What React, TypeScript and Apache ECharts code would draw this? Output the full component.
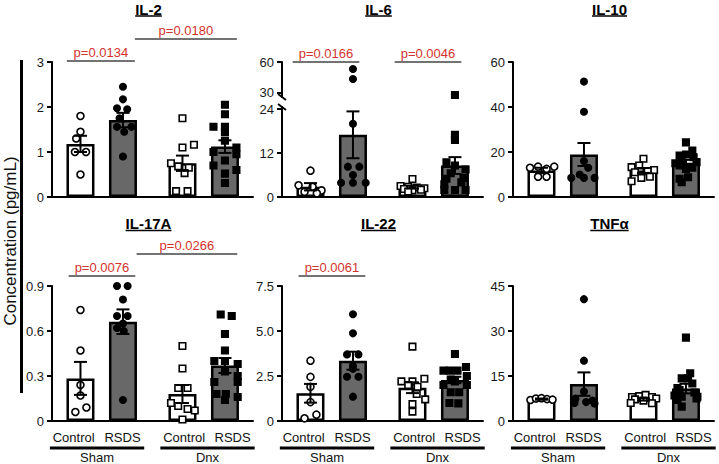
import React, { useEffect, useRef } from "react";
import * as echarts from "echarts";

const FONT = "'Liberation Sans', Arial, Helvetica, sans-serif";

// ---------- categories ----------
const GROUP_NAMES = ["Control", "RSDS", "Control", "RSDS"];
const GROUP_X = [0, 1, 2.4, 3.4];
const LABEL_X = [-0.16, 0.99, 2.44, 3.58];
const SURGERY_NAMES = ["Sham", "Dnx"];
const SURGERY_SPAN = [[-0.72, 1.5], [1.88, 4.1]];

// ---------- IL-2 ----------
const IL2_MEAN = [1.18, 1.71, 0.75, 1.12];
const IL2_SEM = [0.18, 0.16, 0.17, 0.14];
const IL2_SHAM_CTRL = [[0, 1.8], [0, 1.45], [-0.1, 1.3], [0.13, 1.0], [-0.13, 1.0], [0, 0.5]];
const IL2_SHAM_RSDS = [[0, 2.45], [0, 2.17], [-0.14, 1.97], [0.1, 1.95], [-0.08, 1.75], [-0.14, 1.56], [0.2, 1.56], [0.03, 1.45], [0, 0.9]];
const IL2_DNX_CTRL = [[0, 1.75], [0, 1.1], [0.27, 1.16], [-0.27, 0.75], [-0.1, 0.68], [0.15, 0.65], [0.05, 0.53], [-0.15, 0.13], [0.12, 0.13]];
const IL2_DNX_RSDS = [[0, 2.05], [0, 1.84], [-0.27, 1.56], [0, 1.56], [0, 1.44], [0, 1.25], [0.27, 1.1], [-0.27, 1.0], [0.27, 0.95], [0, 0.81], [-0.27, 0.7], [0.27, 0.6], [0, 0.52], [0, 0.31]];

// ---------- IL-6 ----------
const IL6_MEAN = [2.8, 17.0, 2.7, 8.6];
const IL6_SEM = [1.0, 6.4, 0.4, 2.3];
const IL6_SHAM_CTRL = [[0, 7.2], [-0.28, 3.2], [0.05, 2.8], [0.26, 1.8], [-0.14, 1.4], [0.15, 1.0]];
const IL6_SHAM_RSDS = [[0, 53.2], [0, 43.5], [0, 20], [-0.12, 8.3], [0.15, 8.3], [0, 6], [-0.28, 3.9], [0, 3.9], [0.3, 3.9]];
const IL6_DNX_CTRL = [[0, 4.9], [-0.28, 3.0], [-0.1, 2.8], [0.1, 2.6], [0.28, 2.4], [-0.2, 2.2], [0.2, 2.0], [0, 1.8], [-0.1, 1.5]];
const IL6_DNX_RSDS = [[0, 28], [0, 17], [0, 15.6], [-0.2, 9.5], [0, 8.6], [0.25, 7.5], [-0.1, 6.5], [0.2, 5.2], [-0.2, 5.0], [0.15, 4], [-0.25, 3.5], [-0.25, 1.9], [0, 1.9], [0.25, 1.9]];

// ---------- IL-10 ----------
const IL10_MEAN = [11.8, 18.9, 11.8, 15.2];
const IL10_SEM = [1.2, 5.1, 1.1, 1.3];
const IL10_SHAM_CTRL = [[-0.27, 13], [-0.08, 13.5], [0.12, 12.5], [0.3, 13.5], [-0.08, 9], [0.12, 9]];
const IL10_SHAM_RSDS = [[0, 51.3], [0, 37.9], [0, 16], [0.1, 13], [-0.1, 10], [-0.3, 8.5], [0, 8.5], [0.25, 8.5]];
const IL10_DNX_CTRL = [[0, 17], [-0.1, 14], [-0.28, 13.3], [0.25, 12], [0.1, 11.5], [-0.2, 11], [0.15, 9], [-0.05, 8.5], [-0.28, 7]];
const IL10_DNX_RSDS = [[0, 24.3], [0.15, 20.6], [0, 18.9], [-0.15, 18.4], [0.18, 17.7], [-0.1, 16.5], [0.25, 15.5], [-0.25, 15], [-0.15, 14], [0.15, 13], [0, 12.5], [0.05, 8.8], [-0.15, 8.1], [-0.1, 6.6]];

// ---------- IL-17A ----------
const IL17_MEAN = [0.284, 0.662, 0.18, 0.37];
const IL17_SEM = [0.11, 0.082, 0.06, 0.05];
const IL17_SHAM_CTRL = [[0, 0.74], [0, 0.47], [0, 0.24], [0, 0.17], [0.14, 0.09], [-0.12, 0.06]];
const IL17_SHAM_RSDS = [[-0.14, 0.9], [0.11, 0.9], [0, 0.81], [-0.14, 0.7], [0.11, 0.7], [0, 0.65], [-0.14, 0.62], [0.02, 0.6], [0, 0.14]];
const IL17_DNX_CTRL = [[0, 0.5], [0, 0.35], [-0.1, 0.22], [0.12, 0.22], [-0.27, 0.12], [-0.1, 0.1], [0.12, 0.08], [0.29, 0.07], [0, 0.01]];
const IL17_DNX_RSDS = [[-0.1, 0.71], [0.16, 0.7], [0, 0.58], [0, 0.47], [-0.25, 0.4], [0, 0.4], [0.3, 0.38], [0, 0.33], [0.3, 0.3], [-0.25, 0.26], [0.3, 0.26], [-0.2, 0.18], [0.02, 0.18], [0.3, 0.16], [0, 0.14]];

// ---------- IL-22 ----------
const IL22_MEAN = [1.54, 3.35, 1.85, 2.28];
const IL22_SEM = [0.52, 0.5, 0.3, 0.18];
const IL22_SHAM_CTRL = [[0, 3.35], [0, 2.45], [0, 1.9], [0, 1.05], [0.14, 0.35], [-0.14, 0.15]];
const IL22_SHAM_RSDS = [[0, 5.93], [0, 4.87], [-0.14, 3.7], [0.13, 3.7], [0, 3.07], [0, 2.9], [-0.14, 2.46], [0.13, 2.46], [0, 1.35]];
const IL22_DNX_CTRL = [[0, 4.13], [-0.26, 2.2], [0, 2.2], [0.28, 2.35], [-0.1, 2.0], [0.12, 1.9], [0.1, 1.5], [0.3, 1.2], [0, 0.94], [0, 0.52]];
const IL22_DNX_RSDS = [[0, 3.72], [0.26, 3.0], [-0.27, 2.8], [-0.12, 2.8], [0.06, 2.8], [0.28, 2.5], [-0.1, 2.3], [0, 2.2], [-0.27, 2.0], [0.28, 2.0], [-0.1, 1.6], [0.1, 1.6], [-0.13, 1.0], [0.08, 0.98]];

// ---------- TNFα ----------
const TNF_MEAN = [7.3, 12.3, 7.2, 10.8];
const TNF_SEM = [0.2, 3.9, 0.4, 1.6];
const TNF_SHAM_CTRL = [[-0.26, 7.0], [-0.13, 7.5], [0, 7.6], [0.13, 7.3], [0.26, 7.1]];
const TNF_SHAM_RSDS = [[0, 40.6], [0, 20.1], [0, 9.8], [-0.2, 7.5], [0.2, 6.8], [0.05, 6.3], [-0.22, 6], [0.25, 5.8]];
const TNF_DNX_CTRL = [[-0.27, 8.0], [-0.1, 8.3], [0.05, 8.7], [0.2, 8.0], [0.3, 7.5], [-0.2, 7.2], [0, 6.8], [-0.3, 6.0], [0.2, 5.9]];
const TNF_DNX_RSDS = [[0, 27.8], [0.1, 15.9], [-0.1, 14.2], [0.05, 14.2], [0.15, 12.5], [-0.2, 11], [-0.15, 10.3], [0.2, 9.5], [-0.27, 8.5], [-0.1, 8.1], [0.27, 8.1], [0.25, 7.5], [-0.2, 7], [-0.1, 4.8]];

// ---------- layout ----------
const COL_LEFT = [52, 282, 513];
const ROW_TOP = [62, 286];
const GRID_W = 201;
const GRID_H = 135;
const X_MIN = -0.67;
const X_MAX = 4.06;
const DARK = "#686868";
const RED = "#d2322d";

type Bracket = { text: string; from: number; to: number; y: number };
type Panel = {
  title: string;
  row: number;
  col: number;
  mean: number[];
  sem: number[];
  pts: number[][][];
  max: number;
  interval: number;
  dec: number;
  brackets: Bracket[];
  broken?: boolean;
};

const PANELS: Panel[] = [
  {
    title: "IL-2", row: 0, col: 0, mean: IL2_MEAN, sem: IL2_SEM,
    pts: [IL2_SHAM_CTRL, IL2_SHAM_RSDS, IL2_DNX_CTRL, IL2_DNX_RSDS],
    max: 3, interval: 1, dec: 0,
    brackets: [
      { text: "p=0.0134", from: -0.32, to: 1.28, y: 61 },
      { text: "p=0.0180", from: 1.28, to: 3.68, y: 39 },
    ],
  },
  {
    title: "IL-6", row: 0, col: 1, mean: IL6_MEAN, sem: IL6_SEM,
    pts: [IL6_SHAM_CTRL, IL6_SHAM_RSDS, IL6_DNX_CTRL, IL6_DNX_RSDS],
    max: 24.6, interval: 12, dec: 0, broken: true,
    brackets: [
      { text: "p=0.0166", from: -0.42, to: 1.15, y: 62 },
      { text: "p=0.0046", from: 1.98, to: 3.55, y: 62 },
    ],
  },
  {
    title: "IL-10", row: 0, col: 2, mean: IL10_MEAN, sem: IL10_SEM,
    pts: [IL10_SHAM_CTRL, IL10_SHAM_RSDS, IL10_DNX_CTRL, IL10_DNX_RSDS],
    max: 60, interval: 20, dec: 0, brackets: [],
  },
  {
    title: "IL-17A", row: 1, col: 0, mean: IL17_MEAN, sem: IL17_SEM,
    pts: [IL17_SHAM_CTRL, IL17_SHAM_RSDS, IL17_DNX_CTRL, IL17_DNX_RSDS],
    max: 0.9, interval: 0.3, dec: 1,
    brackets: [
      { text: "p=0.0076", from: -0.28, to: 1.29, y: 276 },
      { text: "p=0.0266", from: 1.32, to: 3.69, y: 254 },
    ],
  },
  {
    title: "IL-22", row: 1, col: 1, mean: IL22_MEAN, sem: IL22_SEM,
    pts: [IL22_SHAM_CTRL, IL22_SHAM_RSDS, IL22_DNX_CTRL, IL22_DNX_RSDS],
    max: 7.5, interval: 2.5, dec: 1,
    brackets: [{ text: "p=0.0061", from: -0.28, to: 1.29, y: 276 }],
  },
  {
    title: "TNFα", row: 1, col: 2, mean: TNF_MEAN, sem: TNF_SEM,
    pts: [TNF_SHAM_CTRL, TNF_SHAM_RSDS, TNF_DNX_CTRL, TNF_DNX_RSDS],
    max: 45, interval: 15, dec: 0, brackets: [],
  },
];

const SYMBOLS = [
  { symbol: "circle", size: 7, color: "#fff" },
  { symbol: "circle", size: 6.5, color: "#000" },
  { symbol: "rect", size: 6.5, color: "#fff" },
  { symbol: "rect", size: 6.5, color: "#000" },
];

function measure(text: string, font: string) {
  const c = document.createElement("canvas").getContext("2d");
  if (!c) return text.length * 8;
  c.font = font;
  return c.measureText(text).width;
}

export default function App() {
  const ref = useRef<HTMLDivElement>(null);

  useEffect(() => {
    if (!ref.current) return;
    const chart = echarts.init(ref.current, null, { renderer: "svg" });

    const grids: any[] = [];
    const xAxes: any[] = [];
    const yAxes: any[] = [];
    const series: any[] = [];
    const mainIdx: number[] = [];

    const axisLineStyle = { color: "#000", width: 2 };
    const yLabel = (dec: number) => ({
      fontSize: 13,
      color: "#1a1a1a",
      margin: 8,
      fontFamily: FONT,
      formatter: (v: number) => (v === 0 ? "0" : dec ? v.toFixed(dec) : String(Math.round(v))),
    });

    const addAxes = (left: number, top: number, height: number, yCfg: any, xCfg: any) => {
      const idx = grids.length;
      grids.push({ left, top, width: GRID_W, height });
      xAxes.push({
        type: "value",
        gridIndex: idx,
        min: X_MIN,
        max: X_MAX,
        splitLine: { show: false },
        axisTick: { show: false },
        axisLine: { show: true, onZero: false, lineStyle: axisLineStyle },
        ...xCfg,
      });
      yAxes.push({
        type: "value",
        gridIndex: idx,
        splitLine: { show: false },
        axisLine: { show: true, onZero: false, lineStyle: axisLineStyle },
        axisTick: { show: true, length: 5, lineStyle: axisLineStyle },
        ...yCfg,
      });
      return idx;
    };

    const xLabelCfg = (row: number) =>
      row === 1
        ? {
            axisLabel: {
              show: true,
              customValues: LABEL_X,
              fontSize: 13,
              color: "#111",
              margin: 10,
              fontFamily: FONT,
              formatter: (v: number) => {
                const i = LABEL_X.findIndex((x) => Math.abs(x - v) < 1e-6);
                return i >= 0 ? GROUP_NAMES[i] : "";
              },
            },
          }
        : { axisLabel: { show: false } };

    const UPPER_MIN = 26;
    const UPPER_MAX = 60;

    PANELS.forEach((p) => {
      const left = COL_LEFT[p.col];
      let idx: number;
      let upIdx = -1;
      if (p.broken) {
        upIdx = addAxes(
          left, ROW_TOP[p.row], 35,
          {
            min: UPPER_MIN, max: UPPER_MAX,
            axisTick: { show: true, length: 5, lineStyle: axisLineStyle, customValues: [30, 60] },
            axisLabel: { ...yLabel(0), customValues: [30, 60] },
          },
          { show: false }
        );
        idx = addAxes(
          left, ROW_TOP[p.row] + 45, GRID_H - 45,
          {
            min: 0, max: p.max,
            axisTick: { show: true, length: 5, lineStyle: axisLineStyle, customValues: [0, 12, 24] },
            axisLabel: { ...yLabel(0), customValues: [0, 12, 24] },
          },
          xLabelCfg(p.row)
        );
      } else {
        idx = addAxes(
          left, ROW_TOP[p.row], GRID_H,
          { min: 0, max: p.max, interval: p.interval, axisLabel: yLabel(p.dec) },
          xLabelCfg(p.row)
        );
      }
      mainIdx.push(idx);

      series.push({
        type: "bar",
        xAxisIndex: idx,
        yAxisIndex: idx,
        barWidth: 28,
        silent: true,
        z: 2,
        itemStyle: { borderColor: "#000", borderWidth: 2.5 },
        data: p.mean.map((m, i) => ({
          value: [GROUP_X[i], m],
          itemStyle: { color: i % 2 ? DARK : "#fff", borderColor: "#000", borderWidth: 2.5 },
        })),
      });

      p.pts.forEach((grp, gi) => {
        const sym = SYMBOLS[gi];
        const lower = grp.filter((d) => !p.broken || d[1] <= p.max);
        const upper = p.broken ? grp.filter((d) => d[1] > p.max) : [];
        const mk = (data: number[][], ai: number) => ({
          type: "scatter",
          xAxisIndex: ai,
          yAxisIndex: ai,
          symbol: sym.symbol,
          symbolSize: sym.size,
          silent: true,
          z: 4,
          itemStyle: { color: sym.color, borderColor: "#000", borderWidth: 1.6, opacity: 1 },
          data: data.map((d) => [GROUP_X[gi] + d[0], d[1]]),
        });
        series.push(mk(lower, idx));
        if (upper.length) series.push(mk(upper, upIdx));
      });

      series.push({
        type: "custom",
        xAxisIndex: idx,
        yAxisIndex: idx,
        silent: true,
        z: 5,
        data: p.mean.map((m, i) => [GROUP_X[i], m, p.sem[i]]),
        renderItem: (params: any, api: any) => {
          const x = api.value(0);
          const m = api.value(1);
          const s = api.value(2);
          const top = api.coord([x, m + s]);
          const bot = api.coord([x, m - s]);
          const cap = 6.5;
          const st = { stroke: "#000", lineWidth: 2 };
          return {
            type: "group",
            children: [
              { type: "line", shape: { x1: top[0], y1: top[1], x2: bot[0], y2: bot[1] }, style: st },
              { type: "line", shape: { x1: top[0] - cap, y1: top[1], x2: top[0] + cap, y2: top[1] }, style: st },
              { type: "line", shape: { x1: bot[0] - cap, y1: bot[1], x2: bot[0] + cap, y2: bot[1] }, style: st },
            ],
          };
        },
      });
    });

    chart.setOption({
      animation: false,
      backgroundColor: "#fff",
      textStyle: { fontFamily: FONT },
      grid: grids,
      xAxis: xAxes,
      yAxis: yAxes,
      series,
    });

    // ---------- annotations ----------
    const graphic: any[] = [];
    const titleFont = `bold 15px ${FONT}`;
    PANELS.forEach((p, pi) => {
      const idx = mainIdx[pi];
      const conv = (v: number) => chart.convertToPixel({ xAxisIndex: idx } as any, v) as number;
      const cx = COL_LEFT[p.col] + GRID_W / 2 - 4;
      const ty = p.row === 0 ? 9 : 223.5;
      const w = measure(p.title, titleFont);
      graphic.push({
        type: "text",
        x: cx,
        y: ty,
        style: { text: p.title, font: titleFont, fill: "#000", align: "center", verticalAlign: "middle" },
      });
      graphic.push({
        type: "line",
        shape: { x1: cx - w / 2, y1: ty + 7, x2: cx + w / 2, y2: ty + 7 },
        style: { stroke: "#000", lineWidth: 1.5 },
      });
      p.brackets.forEach((b) => {
        const x0 = conv(b.from);
        const x1 = conv(b.to);
        graphic.push({
          type: "line",
          shape: { x1: x0, y1: b.y, x2: x1, y2: b.y },
          style: { stroke: "#444", lineWidth: 1.6 },
        });
        graphic.push({
          type: "text",
          x: (x0 + x1) / 2,
          y: b.y - 8.5,
          style: { text: b.text, font: `13px ${FONT}`, fill: RED, align: "center", verticalAlign: "middle" },
        });
      });
      if (p.broken) {
        const ax = COL_LEFT[p.col];
        const yb = ROW_TOP[p.row] + 35;
        const yt = ROW_TOP[p.row] + 45;
        [yb, yt].forEach((yy) => {
          graphic.push({
            type: "line",
            shape: { x1: ax - 4, y1: yy - 3, x2: ax + 4, y2: yy + 3 },
            style: { stroke: "#000", lineWidth: 1.8 },
          });
        });
      }
      if (p.row === 1) {
        SURGERY_SPAN.forEach((sp, si) => {
          const x0 = conv(sp[0]);
          const x1 = conv(sp[1]);
          graphic.push({
            type: "line",
            shape: { x1: x0, y1: 448, x2: x1, y2: 448 },
            style: { stroke: "#000", lineWidth: 3 },
          });
          graphic.push({
            type: "text",
            x: (x0 + x1) / 2,
            y: 457.5,
            style: { text: SURGERY_NAMES[si], font: `13px ${FONT}`, fill: "#111", align: "center", verticalAlign: "middle" },
          });
        });
      }
    });
    graphic.push({
      type: "line",
      shape: { x1: 21.5, y1: 60, x2: 21.5, y2: 393 },
      style: { stroke: "#000", lineWidth: 3 },
    });
    graphic.push({
      type: "text",
      x: 10,
      y: 241,
      rotation: Math.PI / 2,
      style: { text: "Concentration (pg/mL)", font: `17px ${FONT}`, fill: "#111", align: "center", verticalAlign: "middle" },
    });

    chart.setOption({ graphic });

    return () => chart.dispose();
  }, []);

  return (
    <div
      ref={ref}
      style={{ position: "fixed", left: 0, top: 0, width: 719, height: 464, background: "#fff" }}
    />
  );
}
